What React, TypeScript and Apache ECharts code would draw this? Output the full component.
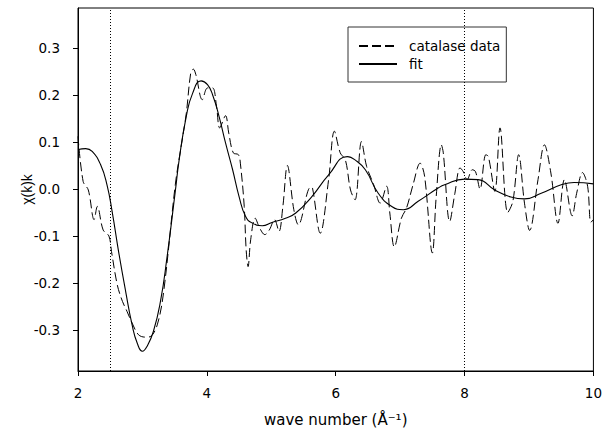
import React, { useEffect, useRef } from "react";
import * as echarts from "echarts";

const kData = [2.0, 2.08, 2.16, 2.25, 2.3, 2.39, 2.48, 2.52, 2.61, 2.69, 2.76, 2.84, 2.94, 3.05, 3.12, 3.23, 3.33, 3.51, 3.6, 3.68, 3.75, 3.79, 3.83, 3.93, 4.01, 4.09, 4.15, 4.2, 4.29, 4.34, 4.41, 4.49, 4.52, 4.58, 4.61, 4.64, 4.68, 4.75, 4.82, 4.9, 4.97, 5.05, 5.12, 5.18, 5.25, 5.35, 5.42, 5.61, 5.64, 5.76, 5.89, 5.98, 6.07, 6.15, 6.23, 6.3, 6.4, 6.48, 6.59, 6.69, 6.79, 6.84, 6.91, 7.02, 7.1, 7.2, 7.31, 7.38, 7.5, 7.56, 7.64, 7.67, 7.77, 7.85, 7.93, 7.98, 8.04, 8.12, 8.17, 8.24, 8.33, 8.37, 8.47, 8.55, 8.67, 8.75, 8.84, 8.93, 9.01, 9.14, 9.24, 9.34, 9.45, 9.55, 9.67, 9.74, 9.83, 9.91, 9.96, 10.0];
const chiData = [0.112, 0.016, -0.002, -0.065, -0.037, -0.087, -0.1, -0.133, -0.204, -0.239, -0.26, -0.285, -0.31, -0.315, -0.314, -0.289, -0.218, 0.009, 0.09, 0.16, 0.247, 0.255, 0.243, 0.19, 0.215, 0.215, 0.176, 0.13, 0.156, 0.119, 0.077, 0.073, 0.055, -0.037, -0.129, -0.165, -0.108, -0.062, -0.083, -0.097, -0.087, -0.065, -0.09, -0.037, 0.05, -0.044, -0.076, 0.004, 0.002, -0.094, 0.02, 0.123, 0.077, 0.062, -0.002, -0.023, 0.101, 0.048, 0.009, -0.03, 0.006, -0.051, -0.123, -0.062, -0.04, 0.009, 0.055, 0.027, -0.136, -0.016, 0.094, 0.077, -0.069, -0.009, 0.045, 0.037, 0.02, 0.041, 0.037, 0.0, 0.073, 0.069, -0.005, 0.13, -0.05, -0.026, 0.073, -0.03, -0.088, 0.02, 0.094, 0.034, -0.073, 0.02, -0.057, -0.009, 0.035, 0.006, -0.071, -0.065];

const kFit = [2.0, 2.12, 2.22, 2.35, 2.45, 2.53, 2.63, 2.74, 2.84, 2.92, 3.0, 3.07, 3.17, 3.28, 3.38, 3.51, 3.57, 3.68, 3.78, 3.91, 4.01, 4.09, 4.19, 4.29, 4.4, 4.5, 4.6, 4.7, 4.86, 5.01, 5.22, 5.38, 5.63, 5.89, 6.18, 6.3, 6.46, 6.66, 6.87, 7.05, 7.28, 7.59, 7.69, 8.0, 8.21, 8.47, 8.72, 8.93, 9.19, 9.5, 9.7, 10.0];
const chiFit = [0.084, 0.086, 0.08, 0.052, 0.009, -0.048, -0.133, -0.218, -0.289, -0.328, -0.345, -0.335, -0.303, -0.239, -0.147, -0.005, 0.062, 0.154, 0.204, 0.23, 0.222, 0.2, 0.154, 0.098, 0.041, -0.016, -0.058, -0.072, -0.078, -0.071, -0.062, -0.051, -0.016, 0.03, 0.069, 0.062, 0.041, -0.009, -0.037, -0.044, -0.026, 0.002, 0.009, 0.021, 0.02, -0.002, -0.017, -0.021, -0.009, 0.009, 0.014, 0.011];

const yTicks = [-0.3, -0.2, -0.1, 0.0, 0.1, 0.2, 0.3];
const xTicks = [2, 4, 6, 8, 10];
const markKs = [2.5, 8];
const seriesNames = ["catalase data", "fit"];

const FONT = "DejaVu Sans";

export default function App() {
  const ref = useRef<HTMLDivElement>(null);
  useEffect(() => {
    if (!ref.current) return;
    const chart = echarts.init(ref.current, null, { renderer: "svg" });
    chart.setOption({
      animation: false,
      backgroundColor: "#ffffff",
      grid: {
        left: 78,
        right: 9,
        top: 8,
        bottom: 62,
        show: true,
        borderColor: "#000",
        borderWidth: 1,
      },
      legend: {
        data: seriesNames,
        orient: "vertical",
        left: 348,
        top: 27,
        borderColor: "#333",
        borderWidth: 1,
        padding: [12, 6, 11, 10],
        itemWidth: 38,
        itemHeight: 14,
        itemGap: 4,
        itemStyle: { opacity: 0, borderWidth: 0 },
        textStyle: { fontFamily: FONT, fontSize: 13.5, color: "#000", padding: [0, 0, 0, 7] },
      },
      xAxis: {
        type: "value",
        min: 2,
        max: 10,
        interval: 2,
        name: "wave number (Å⁻¹)",
        nameLocation: "middle",
        nameGap: 41,
        nameMoveOverlap: false,
        nameTextStyle: { fontFamily: FONT, fontSize: 15, color: "#000" },
        axisLine: { onZero: false, lineStyle: { color: "#000", width: 1 } },
        axisTick: { length: 5, lineStyle: { color: "#000" }, customValues: xTicks },
        axisLabel: { fontFamily: FONT, fontSize: 13.5, color: "#000", margin: 15, customValues: xTicks },
        splitLine: { show: false },
      },
      yAxis: {
        type: "value",
        min: -0.387,
        max: 0.385,
        name: "χ(k)k",
        nameLocation: "middle",
        nameRotate: 90,
        nameGap: 44,
        nameMoveOverlap: false,
        nameTextStyle: { fontFamily: "Liberation Sans", fontSize: 14, color: "#000" },
        axisLine: { onZero: false, lineStyle: { color: "#000", width: 1 } },
        axisTick: { length: 5, lineStyle: { color: "#000" }, customValues: yTicks },
        axisLabel: {
          fontFamily: FONT,
          fontSize: 13.5,
          color: "#000",
          margin: 18,
          customValues: yTicks,
          formatter: (v: number) => v.toFixed(1),
        },
        splitLine: { show: false },
      },
      series: [
        {
          name: seriesNames[0],
          type: "line",
          data: kData.map((k, i) => [k, chiData[i]]),
          symbol: "none",
          smooth: 0.35,
          lineStyle: { color: "#000", width: 1, type: [9, 4] },
          itemStyle: { color: "#000" },
          markLine: {
            silent: true,
            symbol: "none",
            label: { show: false },
            lineStyle: { color: "#000", width: 1, type: [1, 2] },
            data: markKs.map((k) => ({ xAxis: k })),
          },
          z: 3,
        },
        {
          name: seriesNames[1],
          type: "line",
          data: kFit.map((k, i) => [k, chiFit[i]]),
          symbol: "none",
          smooth: 0.5,
          lineStyle: { color: "#000", width: 1.1, type: "solid" },
          itemStyle: { color: "#000" },
          z: 4,
        },
      ],
    });
    return () => chart.dispose();
  }, []);
  return (
    <div
      ref={ref}
      style={{ position: "fixed", left: 0, top: 0, width: 605, height: 433 }}
    />
  );
}
